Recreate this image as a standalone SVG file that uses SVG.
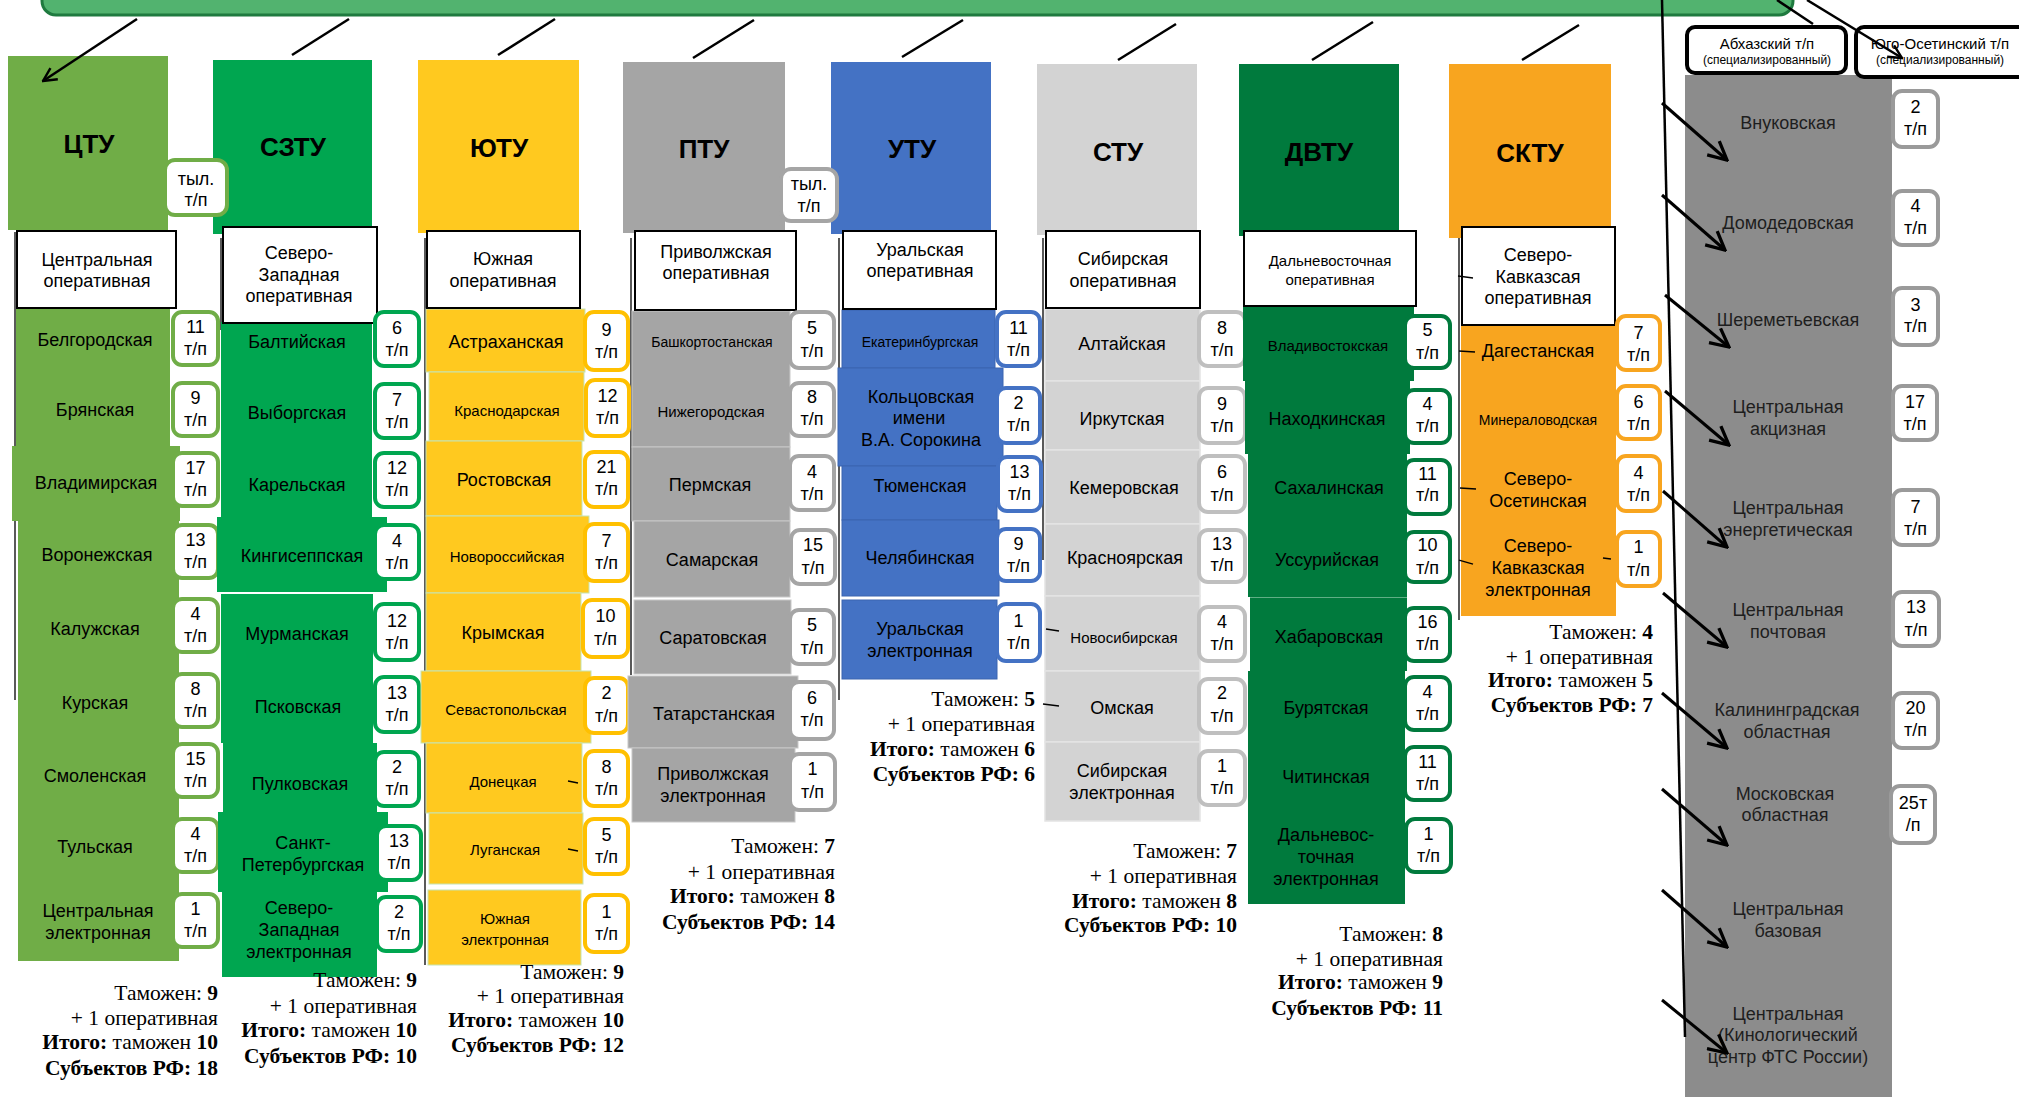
<svg xmlns="http://www.w3.org/2000/svg" width="2019" height="1097" viewBox="0 0 2019 1097">
<defs>
<style>
.t{font-family:"Liberation Sans",Arial,sans-serif;font-size:18px;text-anchor:middle;dominant-baseline:central;fill:#000;stroke:none}
.s15{font-size:15px}
.s14{font-size:14px}
.s12{font-size:12px}
.h{font-family:"Liberation Sans",Arial,sans-serif;font-size:26px;font-weight:bold;text-anchor:middle;dominant-baseline:central;fill:#000}
.sum{font-family:"Liberation Serif","Times New Roman",serif;font-size:21.5px;text-anchor:end;dominant-baseline:central;fill:#000}
.b{font-weight:bold}
.op{fill:#fff;stroke:#000;stroke-width:2}
.cb{fill:#fff;stroke-width:4}
.ln{stroke:#000;stroke-width:2.5;fill:none}
.lnw{stroke:#000;stroke-width:3;fill:none}
.tick{stroke:#000;stroke-width:1.3}
.g1{fill:#70AD47}.g2{fill:#00A650}.g3{fill:#FFC91F;stroke:#C6E3B2;stroke-width:1}.g4{fill:#A5A5A5;stroke:#C8C8C8;stroke-width:1}
.g5{fill:#4472C4;stroke:#3A64B0;stroke-width:1}.g6{fill:#D3D3D3;stroke:#E4E4E4;stroke-width:1.5}.g7{fill:#007A3D}.g8{fill:#F8A51F}
.rg{fill:#8C8C8C}
.dk{fill:#1E1E1E}
</style>
<marker id="arr" viewBox="0 0 12 12" refX="11" refY="6" markerWidth="16" markerHeight="16" markerUnits="userSpaceOnUse" orient="auto">
<path d="M1,1 L11,6 L1,11" fill="none" stroke="#000" stroke-width="1.8"/>
</marker>
<marker id="arr2" viewBox="0 0 12 12" refX="11" refY="6" markerWidth="22" markerHeight="22" markerUnits="userSpaceOnUse" orient="auto">
<path d="M1,1 L11,6 L1,11" fill="none" stroke="#000" stroke-width="1.8"/>
</marker>
</defs>
<rect width="2019" height="1097" fill="#fff"/>

<g id="banner">
<rect x="42" y="-40" width="1751" height="55" rx="14" fill="#52B36F" stroke="#1F7A3F" stroke-width="3"/>
</g>

<g id="spines">
<line class="tick" x1="15" y1="232" x2="15" y2="700"/>
<line class="tick" x1="221" y1="238" x2="221" y2="330"/>
<line class="tick" x1="425" y1="238" x2="425" y2="965"/>
<line class="tick" x1="631" y1="238" x2="631" y2="675"/>
<line class="tick" x1="839" y1="238" x2="839" y2="700"/>
<line class="tick" x1="1043" y1="238" x2="1043" y2="560"/>
<line class="tick" x1="1459" y1="226" x2="1459" y2="620"/>
</g>

<!-- headers -->
<g id="h-ctu"><rect class="g1" x="8" y="56" width="160" height="174"/><text class="h" x="89" y="144">ЦТУ</text></g>
<g id="h-szt"><rect class="g2" x="213" y="60" width="159" height="174"/><text class="h" x="293" y="147">СЗТУ</text></g>
<g id="h-yut"><rect fill="#FFC91F" x="418" y="60" width="161" height="173"/><text class="h" x="499" y="148">ЮТУ</text></g>
<g id="h-ptu"><rect fill="#A5A5A5" x="623" y="62" width="162" height="171"/><text class="h" x="704" y="149">ПТУ</text></g>
<g id="h-utu"><rect fill="#4472C4" x="831" y="62" width="160" height="172"/><text class="h" x="912" y="149">УТУ</text></g>
<g id="h-stu"><rect fill="#D3D3D3" x="1037" y="64" width="160" height="171"/><text class="h" x="1118" y="152">СТУ</text></g>
<g id="h-dvtu"><rect class="g7" x="1239" y="64" width="160" height="172"/><text class="h" x="1319" y="152">ДВТУ</text></g>
<g id="h-sktu"><rect class="g8" x="1449" y="64" width="162" height="174"/><text class="h" x="1530" y="153">СКТУ</text></g>

<!-- ЦТУ -->
<g id="ctu-tyl"><rect class="cb" stroke="#70AD47" x="165" y="160" width="62" height="55" rx="10"/><text class="t" x="196" y="179">тыл.</text><text class="t" x="196" y="200">т/п</text></g>
<g id="ctu-rows">
<rect class="g1" x="16" y="309" width="154" height="137"/>
<rect class="g1" x="12" y="446" width="168" height="75"/>
<rect class="g1" x="18" y="521" width="161" height="440"/>
<text class="t" x="95" y="340">Белгородская</text>
<text class="t" x="95" y="410">Брянская</text>
<text class="t" x="96" y="483">Владимирская</text>
<text class="t" x="97" y="555">Воронежская</text>
<text class="t" x="95" y="629">Калужская</text>
<text class="t" x="95" y="703">Курская</text>
<text class="t" x="95" y="776">Смоленская</text>
<text class="t" x="95" y="847">Тульская</text>
<text class="t" x="98" y="911">Центральная</text><text class="t" x="98" y="933">электронная</text>
</g>
<g id="ctu-op"><rect class="op" x="17" y="231" width="159" height="77"/><text class="t" x="97" y="260">Центральная</text><text class="t" x="97" y="281">оперативная</text></g>
<g id="ctu-counts" stroke="#70AD47">
<rect class="cb" x="173" y="312" width="45" height="53" rx="9"/><text class="t" x="195.5" y="327">11</text><text class="t" x="195.5" y="349">т/п</text>
<rect class="cb" x="173" y="383" width="45" height="53" rx="9"/><text class="t" x="195.5" y="398">9</text><text class="t" x="195.5" y="420">т/п</text>
<rect class="cb" x="173" y="453" width="45" height="53" rx="9"/><text class="t" x="195.5" y="468">17</text><text class="t" x="195.5" y="490">т/п</text>
<rect class="cb" x="173" y="525" width="45" height="53" rx="9"/><text class="t" x="195.5" y="540">13</text><text class="t" x="195.5" y="562">т/п</text>
<rect class="cb" x="173" y="599" width="45" height="53" rx="9"/><text class="t" x="195.5" y="614">4</text><text class="t" x="195.5" y="636">т/п</text>
<rect class="cb" x="173" y="674" width="45" height="53" rx="9"/><text class="t" x="195.5" y="689">8</text><text class="t" x="195.5" y="711">т/п</text>
<rect class="cb" x="173" y="744" width="45" height="53" rx="9"/><text class="t" x="195.5" y="759">15</text><text class="t" x="195.5" y="781">т/п</text>
<rect class="cb" x="173" y="819" width="45" height="53" rx="9"/><text class="t" x="195.5" y="834">4</text><text class="t" x="195.5" y="856">т/п</text>
<rect class="cb" x="173" y="894" width="45" height="53" rx="9"/><text class="t" x="195.5" y="909">1</text><text class="t" x="195.5" y="931">т/п</text>
</g>
<g id="ctu-sum">
<text class="sum" x="218" y="993">Таможен: <tspan class="b">9</tspan></text>
<text class="sum" x="218" y="1018">+ 1 оперативная</text>
<text class="sum" x="218" y="1042"><tspan class="b">Итого:</tspan> таможен <tspan class="b">10</tspan></text>
<text class="sum b" x="218" y="1068">Субъектов РФ: 18</text>
</g>

<!-- СЗТУ -->
<g id="szt-rows">
<rect class="g2" x="221" y="322" width="151" height="52"/>
<rect class="g2" x="221" y="374" width="151" height="72"/>
<rect class="g2" x="221" y="446" width="151" height="71"/>
<rect class="g2" x="217" y="517" width="170" height="75"/>
<rect class="g2" x="221" y="594" width="152" height="74"/>
<rect class="g2" x="221" y="668" width="152" height="75"/>
<rect class="g2" x="223" y="743" width="154" height="69"/>
<rect class="g2" x="218" y="812" width="170" height="80"/>
<rect class="g2" x="222" y="892" width="155" height="85"/>
<text class="t" x="297" y="342">Балтийская</text>
<text class="t" x="297" y="413">Выборгская</text>
<text class="t" x="297" y="485">Карельская</text>
<text class="t" x="302" y="556">Кингисеппская</text>
<text class="t" x="297" y="634">Мурманская</text>
<text class="t" x="298" y="707">Псковская</text>
<text class="t" x="300" y="784">Пулковская</text>
<text class="t" x="303" y="843">Санкт-</text><text class="t" x="303" y="865">Петербургская</text>
<text class="t" x="299" y="908">Северо-</text><text class="t" x="299" y="930">Западная</text><text class="t" x="299" y="952">электронная</text>
</g>
<g id="szt-op"><rect class="op" x="223" y="227" width="154" height="96"/><text class="t" x="299" y="253">Северо-</text><text class="t" x="299" y="275">Западная</text><text class="t" x="299" y="296">оперативная</text></g>
<g id="szt-counts" stroke="#00A650">
<rect class="cb" x="375" y="312" width="44" height="54" rx="9"/><text class="t" x="397" y="328">6</text><text class="t" x="397" y="350">т/п</text>
<rect class="cb" x="375" y="384" width="44" height="54" rx="9"/><text class="t" x="397" y="400">7</text><text class="t" x="397" y="422">т/п</text>
<rect class="cb" x="375" y="453" width="44" height="54" rx="9"/><text class="t" x="397" y="468">12</text><text class="t" x="397" y="490">т/п</text>
<rect class="cb" x="375" y="525" width="44" height="54" rx="9"/><text class="t" x="397" y="541">4</text><text class="t" x="397" y="563">т/п</text>
<rect class="cb" x="375" y="604" width="44" height="56" rx="9"/><text class="t" x="397" y="621">12</text><text class="t" x="397" y="643">т/п</text>
<rect class="cb" x="375" y="677" width="44" height="55" rx="9"/><text class="t" x="397" y="693">13</text><text class="t" x="397" y="715">т/п</text>
<rect class="cb" x="375" y="752" width="44" height="54" rx="9"/><text class="t" x="397" y="767">2</text><text class="t" x="397" y="789">т/п</text>
<rect class="cb" x="377" y="826" width="44" height="54" rx="9"/><text class="t" x="399" y="841">13</text><text class="t" x="399" y="863">т/п</text>
<rect class="cb" x="377" y="897" width="44" height="54" rx="9"/><text class="t" x="399" y="912">2</text><text class="t" x="399" y="934">т/п</text>
</g>
<g id="szt-sum">
<text class="sum" x="417" y="980">Таможен: <tspan class="b">9</tspan></text>
<text class="sum" x="417" y="1006">+ 1 оперативная</text>
<text class="sum" x="417" y="1030"><tspan class="b">Итого:</tspan> таможен <tspan class="b">10</tspan></text>
<text class="sum b" x="417" y="1056">Субъектов РФ: 10</text>
</g>

<!-- ЮТУ -->
<g id="yut-rows">
<rect class="g3" x="426" y="309" width="159" height="63"/>
<rect class="g3" x="429" y="372" width="155" height="69"/>
<rect class="g3" x="426" y="441" width="156" height="75"/>
<rect class="g3" x="426" y="516" width="163" height="77"/>
<rect class="g3" x="426" y="593" width="155" height="78"/>
<rect class="g3" x="421" y="671" width="170" height="72"/>
<rect class="g3" x="426" y="743" width="156" height="70"/>
<rect class="g3" x="429" y="813" width="154" height="71"/>
<rect class="g3" x="428" y="890" width="153" height="75"/>
<text class="t" x="506" y="342">Астраханская</text>
<text class="t s15" x="507" y="410">Краснодарская</text>
<text class="t" x="504" y="480">Ростовская</text>
<text class="t s15" x="507" y="556">Новороссийская</text>
<text class="t" x="503" y="633">Крымская</text>
<text class="t s15" x="506" y="709">Севастопольская</text>
<text class="t s15" x="503" y="781">Донецкая</text>
<text class="t s15" x="505" y="849">Луганская</text>
<text class="t s15" x="505" y="918">Южная</text><text class="t s15" x="505" y="939">электронная</text>
</g>
<g id="yut-op"><rect class="op" x="427" y="231" width="153" height="77"/><text class="t" x="503" y="259">Южная</text><text class="t" x="503" y="281">оперативная</text></g>
<g id="yut-counts" stroke="#FFC000">
<rect class="cb" x="585" y="312" width="43" height="58" rx="9"/><text class="t" x="606.5" y="330">9</text><text class="t" x="606.5" y="352">т/п</text>
<rect class="cb" x="586" y="380" width="43" height="56" rx="9"/><text class="t" x="607.5" y="396">12</text><text class="t" x="607.5" y="418">т/п</text>
<rect class="cb" x="585" y="452" width="43" height="55" rx="9"/><text class="t" x="606.5" y="467">21</text><text class="t" x="606.5" y="489">т/п</text>
<rect class="cb" x="585" y="524" width="43" height="57" rx="9"/><text class="t" x="606.5" y="541">7</text><text class="t" x="606.5" y="563">т/п</text>
<rect class="cb" x="583" y="600" width="45" height="57" rx="9"/><text class="t" x="605.5" y="616">10</text><text class="t" x="605.5" y="639">т/п</text>
<rect class="cb" x="585" y="678" width="43" height="55" rx="9"/><text class="t" x="606.5" y="693">2</text><text class="t" x="606.5" y="716">т/п</text>
<rect class="cb" x="585" y="751" width="43" height="55" rx="9"/><text class="t" x="606.5" y="767">8</text><text class="t" x="606.5" y="789">т/п</text>
<rect class="cb" x="585" y="819" width="43" height="55" rx="9"/><text class="t" x="606.5" y="835">5</text><text class="t" x="606.5" y="857">т/п</text>
<rect class="cb" x="585" y="895" width="43" height="57" rx="9"/><text class="t" x="606.5" y="912">1</text><text class="t" x="606.5" y="934">т/п</text>
</g>
<g id="yut-sum">
<text class="sum" x="624" y="972">Таможен: <tspan class="b">9</tspan></text>
<text class="sum" x="624" y="996">+ 1 оперативная</text>
<text class="sum" x="624" y="1020"><tspan class="b">Итого:</tspan> таможен <tspan class="b">10</tspan></text>
<text class="sum b" x="624" y="1045">Субъектов РФ: 12</text>
</g>

<!-- ПТУ -->
<g id="ptu-rows">
<rect class="g4" x="632" y="311" width="158" height="136"/>
<rect class="g4" x="632" y="447" width="158" height="74"/>
<rect class="g4" x="634" y="521" width="156" height="76"/>
<rect class="g4" x="634" y="600" width="157" height="74"/>
<rect class="g4" x="628" y="676" width="170" height="72"/>
<rect class="g4" x="632" y="748" width="163" height="74"/>
<text class="t s14" x="712" y="342">Башкортостанская</text>
<text class="t s15" x="711" y="411">Нижегородская</text>
<text class="t" x="710" y="485">Пермская</text>
<text class="t" x="712" y="560">Самарская</text>
<text class="t" x="713" y="638">Саратовская</text>
<text class="t" x="714" y="714">Татарстанская</text>
<text class="t" x="713" y="774">Приволжская</text><text class="t" x="713" y="796">электронная</text>
</g>
<g id="ptu-op"><rect class="op" x="635" y="231" width="161" height="79"/><text class="t" x="716" y="252">Приволжская</text><text class="t" x="716" y="273">оперативная</text></g>
<g id="ptu-counts" stroke="#A5A5A5">
<rect class="cb" x="790" y="312" width="44" height="56" rx="9"/><text class="t" x="812" y="328">5</text><text class="t" x="812" y="351">т/п</text>
<rect class="cb" x="790" y="383" width="44" height="53" rx="9"/><text class="t" x="812" y="397">8</text><text class="t" x="812" y="419">т/п</text>
<rect class="cb" x="790" y="456" width="44" height="54" rx="9"/><text class="t" x="812" y="472">4</text><text class="t" x="812" y="494">т/п</text>
<rect class="cb" x="791" y="530" width="44" height="54" rx="9"/><text class="t" x="813" y="545">15</text><text class="t" x="813" y="568">т/п</text>
<rect class="cb" x="790" y="610" width="44" height="54" rx="9"/><text class="t" x="812" y="625">5</text><text class="t" x="812" y="648">т/п</text>
<rect class="cb" x="790" y="682" width="44" height="57" rx="9"/><text class="t" x="812" y="698">6</text><text class="t" x="812" y="720">т/п</text>
<rect class="cb" x="790" y="754" width="45" height="56" rx="9"/><text class="t" x="812.5" y="769">1</text><text class="t" x="812.5" y="792">т/п</text>
</g>
<g id="ptu-sum">
<text class="sum" x="835" y="846">Таможен: <tspan class="b">7</tspan></text>
<text class="sum" x="835" y="872">+ 1 оперативная</text>
<text class="sum" x="835" y="896"><tspan class="b">Итого:</tspan> таможен <tspan class="b">8</tspan></text>
<text class="sum b" x="835" y="922">Субъектов РФ: 14</text>
</g>

<!-- УТУ -->
<g id="utu-rows">
<rect class="g5" x="842" y="310" width="153" height="58"/>
<rect class="g5" x="838" y="368" width="165" height="98"/>
<rect class="g5" x="842" y="466" width="155" height="54"/>
<rect class="g5" x="842" y="520" width="157" height="76"/>
<rect class="g5" x="842" y="600" width="155" height="79"/>
<text class="t s14" x="920" y="342">Екатеринбургская</text>
<text class="t" x="921" y="397">Кольцовская</text><text class="t" x="919" y="418">имени</text><text class="t" x="921" y="440">В.А. Сорокина</text>
<text class="t" x="920" y="486">Тюменская</text>
<text class="t" x="920" y="558">Челябинская</text>
<text class="t" x="920" y="629">Уральская</text><text class="t" x="920" y="651">электронная</text>
</g>
<g id="utu-op"><rect class="op" x="843" y="231" width="153" height="78"/><text class="t" x="920" y="250">Уральская</text><text class="t" x="920" y="271">оперативная</text></g>
<g id="utu-counts" stroke="#4472C4">
<rect class="cb" x="997" y="312" width="43" height="54" rx="9"/><text class="t" x="1018.5" y="328">11</text><text class="t" x="1018.5" y="350">т/п</text>
<rect class="cb" x="997" y="388" width="43" height="55" rx="9"/><text class="t" x="1018.5" y="403">2</text><text class="t" x="1018.5" y="425">т/п</text>
<rect class="cb" x="998" y="457" width="43" height="54" rx="9"/><text class="t" x="1019.5" y="472">13</text><text class="t" x="1019.5" y="494">т/п</text>
<rect class="cb" x="997" y="529" width="43" height="52" rx="9"/><text class="t" x="1018.5" y="544">9</text><text class="t" x="1018.5" y="566">т/п</text>
<rect class="cb" x="997" y="604" width="43" height="57" rx="9"/><text class="t" x="1018.5" y="621">1</text><text class="t" x="1018.5" y="643">т/п</text>
</g>
<g id="utu-sum">
<text class="sum" x="1035" y="699">Таможен: <tspan class="b">5</tspan></text>
<text class="sum" x="1035" y="724">+ 1 оперативная</text>
<text class="sum" x="1035" y="749"><tspan class="b">Итого:</tspan> таможен <tspan class="b">6</tspan></text>
<text class="sum b" x="1035" y="774">Субъектов РФ: 6</text>
</g>

<!-- СТУ -->
<g id="stu-rows">
<rect class="g6" x="1045" y="309" width="155" height="72"/>
<rect class="g6" x="1045" y="381" width="155" height="69"/>
<rect class="g6" x="1045" y="450" width="155" height="74"/>
<rect class="g6" x="1045" y="524" width="155" height="72"/>
<rect class="g6" x="1045" y="596" width="155" height="75"/>
<rect class="g6" x="1045" y="671" width="155" height="71"/>
<rect class="g6" x="1045" y="742" width="155" height="79"/>
<text class="t" x="1122" y="344">Алтайская</text>
<text class="t" x="1122" y="419">Иркутская</text>
<text class="t" x="1124" y="488">Кемеровская</text>
<text class="t" x="1125" y="558">Красноярская</text>
<text class="t s15" x="1124" y="637">Новосибирская</text>
<text class="t" x="1122" y="708">Омская</text>
<text class="t" x="1122" y="771">Сибирская</text><text class="t" x="1122" y="793">электронная</text>
</g>
<g id="stu-op"><rect class="op" x="1046" y="231" width="154" height="77"/><text class="t" x="1123" y="259">Сибирская</text><text class="t" x="1123" y="281">оперативная</text></g>
<g id="stu-counts" stroke="#BFBFBF">
<rect class="cb" x="1199" y="312" width="46" height="54" rx="9"/><text class="t" x="1222" y="328">8</text><text class="t" x="1222" y="350">т/п</text>
<rect class="cb" x="1199" y="388" width="46" height="55" rx="9"/><text class="t" x="1222" y="404">9</text><text class="t" x="1222" y="426">т/п</text>
<rect class="cb" x="1199" y="456" width="46" height="56" rx="9"/><text class="t" x="1222" y="472">6</text><text class="t" x="1222" y="495">т/п</text>
<rect class="cb" x="1199" y="530" width="46" height="52" rx="9"/><text class="t" x="1222" y="544">13</text><text class="t" x="1222" y="565">т/п</text>
<rect class="cb" x="1199" y="607" width="46" height="54" rx="9"/><text class="t" x="1222" y="622">4</text><text class="t" x="1222" y="644">т/п</text>
<rect class="cb" x="1199" y="679" width="46" height="54" rx="9"/><text class="t" x="1222" y="693">2</text><text class="t" x="1222" y="716">т/п</text>
<rect class="cb" x="1199" y="751" width="46" height="54" rx="9"/><text class="t" x="1222" y="766">1</text><text class="t" x="1222" y="788">т/п</text>
</g>
<g id="stu-sum">
<text class="sum" x="1237" y="851">Таможен: <tspan class="b">7</tspan></text>
<text class="sum" x="1237" y="876">+ 1 оперативная</text>
<text class="sum" x="1237" y="901"><tspan class="b">Итого:</tspan> таможен <tspan class="b">8</tspan></text>
<text class="sum b" x="1237" y="925">Субъектов РФ: 10</text>
</g>

<!-- ДВТУ -->
<g id="dvtu-rows">
<rect class="g7" x="1243" y="306" width="171" height="75"/>
<rect class="g7" x="1245" y="381" width="165" height="73"/>
<rect class="g7" x="1248" y="454" width="159" height="70"/>
<rect class="g7" x="1248" y="524" width="159" height="73"/>
<rect class="g7" x="1250" y="598" width="157" height="73"/>
<rect class="g7" x="1248" y="671" width="157" height="233"/>
<line x1="1250" y1="597.5" x2="1407" y2="597.5" stroke="#5FAF85" stroke-width="1"/>
<text class="t s15" x="1328" y="345">Владивостокская</text>
<text class="t" x="1327" y="419">Находкинская</text>
<text class="t" x="1329" y="488">Сахалинская</text>
<text class="t" x="1327" y="560">Уссурийская</text>
<text class="t" x="1329" y="637">Хабаровская</text>
<text class="t" x="1326" y="708">Бурятская</text>
<text class="t" x="1326" y="777">Читинская</text>
<text class="t" x="1326" y="835">Дальневос-</text><text class="t" x="1326" y="857">точная</text><text class="t" x="1326" y="879">электронная</text>
</g>
<g id="dvtu-op"><rect class="op" x="1244" y="231" width="172" height="75"/><text class="t s15" x="1330" y="260">Дальневосточная</text><text class="t s15" x="1330" y="279">оперативная</text></g>
<g id="dvtu-counts" stroke="#007A3D">
<rect class="cb" x="1405" y="316" width="45" height="52" rx="9"/><text class="t" x="1427.5" y="330">5</text><text class="t" x="1427.5" y="353">т/п</text>
<rect class="cb" x="1405" y="390" width="45" height="53" rx="9"/><text class="t" x="1427.5" y="404">4</text><text class="t" x="1427.5" y="426">т/п</text>
<rect class="cb" x="1405" y="460" width="45" height="54" rx="9"/><text class="t" x="1427.5" y="474">11</text><text class="t" x="1427.5" y="495">т/п</text>
<rect class="cb" x="1405" y="532" width="45" height="50" rx="9"/><text class="t" x="1427.5" y="545">10</text><text class="t" x="1427.5" y="568">т/п</text>
<rect class="cb" x="1405" y="608" width="45" height="53" rx="9"/><text class="t" x="1427.5" y="622">16</text><text class="t" x="1427.5" y="644">т/п</text>
<rect class="cb" x="1405" y="677" width="45" height="53" rx="9"/><text class="t" x="1427.5" y="692">4</text><text class="t" x="1427.5" y="714">т/п</text>
<rect class="cb" x="1405" y="747" width="45" height="53" rx="9"/><text class="t" x="1427.5" y="762">11</text><text class="t" x="1427.5" y="784">т/п</text>
<rect class="cb" x="1406" y="819" width="45" height="53" rx="9"/><text class="t" x="1428.5" y="834">1</text><text class="t" x="1428.5" y="856">т/п</text>
</g>
<g id="dvtu-sum">
<text class="sum" x="1443" y="934">Таможен: <tspan class="b">8</tspan></text>
<text class="sum" x="1443" y="959">+ 1 оперативная</text>
<text class="sum" x="1443" y="982"><tspan class="b">Итого:</tspan> таможен <tspan class="b">9</tspan></text>
<text class="sum b" x="1443" y="1008">Субъектов РФ: 11</text>
</g>

<!-- СКТУ -->
<g id="sktu-rows">
<rect class="g8" x="1461" y="320" width="155" height="296"/>
<text class="t" x="1538" y="351">Дагестанская</text>
<text class="t s14" x="1538" y="420">Минераловодская</text>
<text class="t" x="1538" y="479">Северо-</text><text class="t" x="1538" y="501">Осетинская</text>
<text class="t" x="1538" y="546">Северо-</text><text class="t" x="1538" y="568">Кавказская</text><text class="t" x="1538" y="590">электронная</text>
</g>
<g id="sktu-op"><rect class="op" x="1462" y="227" width="153" height="98"/><text class="t" x="1538" y="255">Северо-</text><text class="t" x="1538" y="277">Кавказсая</text><text class="t" x="1538" y="298">оперативная</text></g>
<g id="sktu-counts" stroke="#F8A51F">
<rect class="cb" x="1617" y="316" width="43" height="54" rx="9"/><text class="t" x="1638.5" y="333">7</text><text class="t" x="1638.5" y="355">т/п</text>
<rect class="cb" x="1617" y="386" width="43" height="53" rx="9"/><text class="t" x="1638.5" y="402">6</text><text class="t" x="1638.5" y="424">т/п</text>
<rect class="cb" x="1617" y="456" width="43" height="55" rx="9"/><text class="t" x="1638.5" y="473">4</text><text class="t" x="1638.5" y="495">т/п</text>
<rect class="cb" x="1617" y="532" width="43" height="54" rx="9"/><text class="t" x="1638.5" y="547">1</text><text class="t" x="1638.5" y="570">т/п</text>
</g>
<g id="sktu-sum">
<text class="sum" x="1653" y="632">Таможен: <tspan class="b">4</tspan></text>
<text class="sum" x="1653" y="657">+ 1 оперативная</text>
<text class="sum" x="1653" y="680"><tspan class="b">Итого:</tspan> таможен <tspan class="b">5</tspan></text>
<text class="sum b" x="1653" y="705">Субъектов РФ: 7</text>
</g>

<!-- ПТУ тыл. (over УТУ header) -->
<g id="ptu-tyl"><rect class="cb" stroke="#A5A5A5" x="781" y="169" width="56" height="52" rx="10"/><text class="t" x="809" y="184">тыл.</text><text class="t" x="809" y="206">т/п</text></g>

<!-- Right column -->
<g id="right-col">
<rect class="rg" x="1685" y="75" width="207" height="1022"/>
<text class="t dk" x="1788" y="123">Внуковская</text>
<text class="t dk" x="1788" y="223">Домодедовская</text>
<text class="t dk" x="1788" y="320">Шереметьевская</text>
<text class="t dk" x="1788" y="407">Центральная</text><text class="t dk" x="1788" y="429">акцизная</text>
<text class="t dk" x="1788" y="508">Центральная</text><text class="t dk" x="1788" y="530">энергетическая</text>
<text class="t dk" x="1788" y="610">Центральная</text><text class="t dk" x="1788" y="632">почтовая</text>
<text class="t dk" x="1787" y="710">Калининградская</text><text class="t dk" x="1787" y="732">областная</text>
<text class="t dk" x="1785" y="794">Московская</text><text class="t dk" x="1785" y="815">областная</text>
<text class="t dk" x="1788" y="909">Центральная</text><text class="t dk" x="1788" y="931">базовая</text>
<text class="t dk" x="1788" y="1014">Центральная</text><text class="t dk" x="1788" y="1035">(Кинологический</text><text class="t dk" x="1788" y="1057">центр ФТС России)</text>
</g>
<g id="right-counts" stroke="#9A9A9A">
<rect class="cb" x="1893" y="91" width="45" height="56" rx="9" stroke-width="3.5"/><text class="t" x="1915.5" y="107">2</text><text class="t" x="1915.5" y="129">т/п</text>
<rect class="cb" x="1893" y="191" width="45" height="54" rx="9" stroke-width="3.5"/><text class="t" x="1915.5" y="206">4</text><text class="t" x="1915.5" y="228">т/п</text>
<rect class="cb" x="1893" y="288" width="45" height="57" rx="9" stroke-width="3.5"/><text class="t" x="1915.5" y="305">3</text><text class="t" x="1915.5" y="326">т/п</text>
<rect class="cb" x="1893" y="386" width="44" height="54" rx="9" stroke-width="3.5"/><text class="t" x="1915" y="402">17</text><text class="t" x="1915" y="424">т/п</text>
<rect class="cb" x="1893" y="490" width="45" height="55" rx="9" stroke-width="3.5"/><text class="t" x="1915.5" y="507">7</text><text class="t" x="1915.5" y="529">т/п</text>
<rect class="cb" x="1893" y="592" width="46" height="54" rx="9" stroke-width="3.5"/><text class="t" x="1916" y="607">13</text><text class="t" x="1916" y="630">т/п</text>
<rect class="cb" x="1893" y="693" width="45" height="55" rx="9" stroke-width="3.5"/><text class="t" x="1915.5" y="708">20</text><text class="t" x="1915.5" y="730">т/п</text>
<rect class="cb" x="1891" y="786" width="44" height="57" rx="9" stroke-width="3.5"/><text class="t" x="1913" y="803">25т</text><text class="t" x="1913" y="825">/п</text>
</g>
<g id="abkhaz"><rect x="1687" y="27" width="159" height="46" rx="8" fill="#fff" stroke="#000" stroke-width="4"/><text class="t s15" x="1767" y="43">Абхазский т/п</text><text class="t s12" x="1767" y="60">(специализированный)</text></g>
<g id="yugoos"><rect x="1856" y="27" width="180" height="50" rx="8" fill="#fff" stroke="#000" stroke-width="4"/><text class="t s15" x="1940" y="43">Юго-Осетинский т/п</text><text class="t s12" x="1940" y="60">(специализированный)</text></g>

<g id="connectors">
<line class="ln" x1="137" y1="19" x2="43" y2="81" marker-end="url(#arr)"/>
<line class="ln" x1="349" y1="19" x2="292" y2="55"/>
<line class="ln" x1="555" y1="19" x2="498" y2="55"/>
<line class="ln" x1="754" y1="20" x2="693" y2="58"/>
<line class="ln" x1="963" y1="20" x2="902" y2="57"/>
<line class="ln" x1="1176" y1="24" x2="1118" y2="60"/>
<line class="ln" x1="1373" y1="22" x2="1312" y2="60"/>
<line class="ln" x1="1579" y1="25" x2="1522" y2="60"/>
<line class="ln" x1="1662" y1="0" x2="1685" y2="1037"/>
<line class="ln" x1="1777" y1="0" x2="1813" y2="24"/>
<line class="ln" x1="1807" y1="0" x2="1902" y2="58" marker-end="url(#arr)"/>
<line class="lnw" x1="1662" y1="103" x2="1727" y2="160" marker-end="url(#arr2)"/>
<line class="lnw" x1="1662" y1="195" x2="1725" y2="250" marker-end="url(#arr2)"/>
<line class="lnw" x1="1665" y1="295" x2="1729" y2="347" marker-end="url(#arr2)"/>
<line class="lnw" x1="1665" y1="391" x2="1729" y2="445" marker-end="url(#arr2)"/>
<line class="lnw" x1="1663" y1="491" x2="1727" y2="547" marker-end="url(#arr2)"/>
<line class="lnw" x1="1663" y1="593" x2="1727" y2="647" marker-end="url(#arr2)"/>
<line class="lnw" x1="1662" y1="693" x2="1727" y2="748" marker-end="url(#arr2)"/>
<line class="lnw" x1="1662" y1="789" x2="1727" y2="845" marker-end="url(#arr2)"/>
<line class="lnw" x1="1662" y1="890" x2="1727" y2="947" marker-end="url(#arr2)"/>
<line class="lnw" x1="1662" y1="1000" x2="1727" y2="1053" marker-end="url(#arr2)"/>
<line class="tick" x1="568" y1="781" x2="578" y2="783"/>
<line class="tick" x1="568" y1="849" x2="578" y2="851"/>
<line class="tick" x1="1046" y1="629" x2="1059" y2="631"/>
<line class="tick" x1="1043" y1="704" x2="1059" y2="706"/>
<line class="tick" x1="1458" y1="276" x2="1473" y2="278"/>
<line class="tick" x1="1459" y1="351" x2="1475" y2="352"/>
<line class="tick" x1="1460" y1="488" x2="1476" y2="489"/>
<line class="tick" x1="1459" y1="560" x2="1473" y2="564"/>
<line class="tick" x1="1603" y1="558" x2="1611" y2="559"/>
</g>
</svg>
